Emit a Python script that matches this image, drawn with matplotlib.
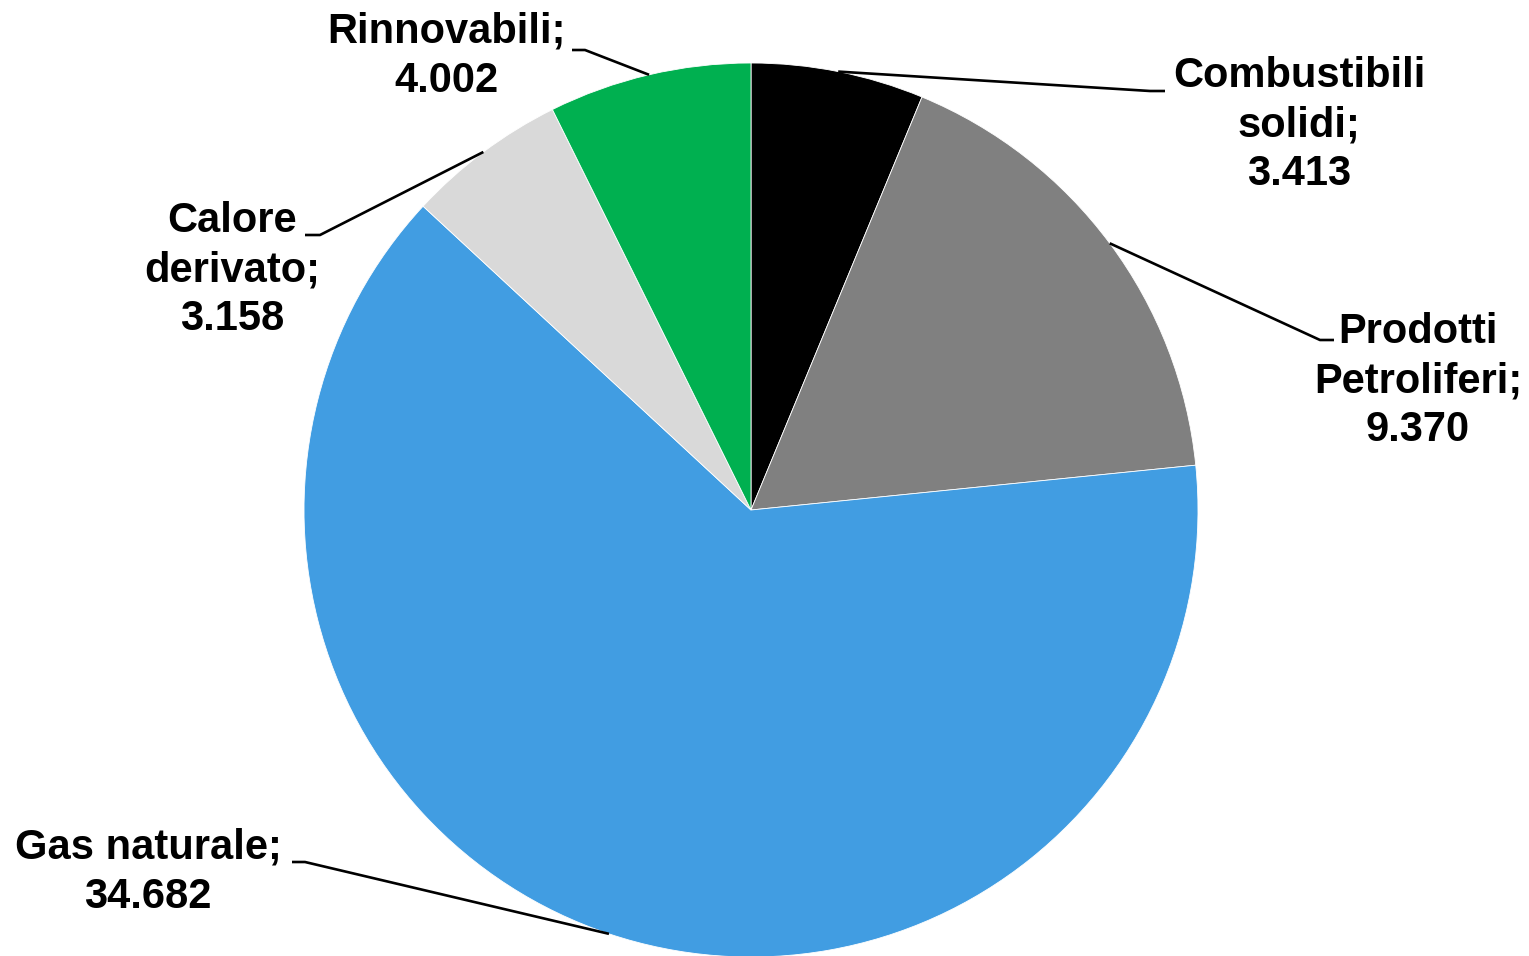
import numpy as np
import matplotlib.pyplot as plt

plt.rcParams['font.family'] = ['Liberation Sans', 'DejaVu Sans']

# Energy consumption by source (ktep)
labels = ["Combustibili\nsolidi", "Prodotti\nPetroliferi", "Gas naturale", "Calore\nderivato", "Rinnovabili"]
values = [3.413, 9.370, 34.682, 3.158, 4.002]
colors = ["#000000", "#808080", "#419DE2", "#D9D9D9", "#00B050"]

# Layout in pixel units (y measured upwards from the bottom edge)
W, H = 1529, 956
pie_center = (751, 446)
pie_radius = 447
# label block centre, elbow point and end of the short horizontal leader segment
label_pos = [(1299, 831), (1418, 575), (148, 84), (232, 686), (446, 900)]
elbows = [(1150, 865), (1320, 616), (305, 94), (320, 721), (585, 906)]
leader_end = [(1165, 865), (1334, 616), (292, 94), (305, 721), (572, 906)]


def fmt(v):
    return f"{v:.3f}"


fig = plt.figure(figsize=(W / 100, H / 100), dpi=100)
ax = fig.add_axes([0, 0, 1, 1])

wedges, _ = ax.pie(values, colors=colors, startangle=90, counterclock=False,
                   center=pie_center, radius=pie_radius,
                   wedgeprops=dict(edgecolor='white', linewidth=0.6))

for w, lab, v, (tx, ty), (ex, ey), (lx, ly) in zip(wedges, labels, values, label_pos, elbows, leader_end):
    mid = np.deg2rad((w.theta1 + w.theta2) / 2)
    sx = pie_center[0] + pie_radius * np.cos(mid)
    sy = pie_center[1] + pie_radius * np.sin(mid)
    ax.plot([sx, ex, lx], [sy, ey, ly], color='black', linewidth=1.9,
            solid_capstyle='butt', zorder=3)
    ax.text(tx, ty, f"{lab};\n{fmt(v)}", ha='center', va='center',
            fontsize=30, fontweight='bold', linespacing=1.3)

ax.set_xlim(0, W)
ax.set_ylim(0, H)
ax.set_aspect('auto')
ax.axis('off')

fig.savefig('out.png', dpi=100, facecolor='white')
